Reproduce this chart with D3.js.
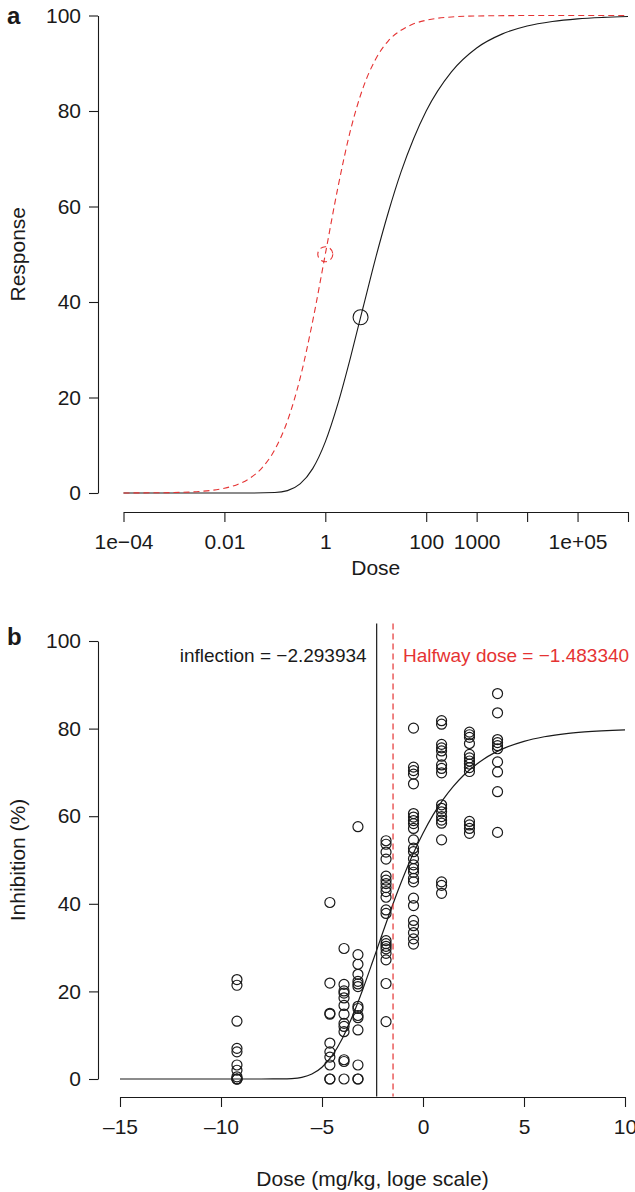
<!DOCTYPE html>
<html>
<head>
<meta charset="utf-8">
<script src="https://cdn.jsdelivr.net/npm/d3@7"></script>
<style>
  body { margin: 0; background: #fff; }
  text { font-family: "Liberation Sans", Arial, Helvetica, sans-serif; }
</style>
</head>
<body>
<div id="container"></div>
<script>
// ---- panel a: two model curves (dose on log10 scale) ----
const curveExpA = [-4, -3, -2, -1.5, -1, -0.75, -0.5, -0.25, 0, 0.25, 0.5, 0.699, 0.75, 1, 1.25, 1.5, 1.75, 2, 2.5, 3, 3.5, 4, 4.5, 5, 5.5, 6];
const blackRespA = [0, 0, 0, 0, 0.09, 0.5, 1.9, 5.1, 10.7, 18.7, 28.4, 36.8, 38.9, 49.3, 58.8, 67.2, 74.2, 80.0, 88.2, 93.2, 96.1, 97.8, 98.75, 99.3, 99.6, 99.78];
const redExpA = [-4, -3, -2.5, -2, -1.75, -1.5, -1.25, -1, -0.75, -0.5, -0.25, 0, 0.25, 0.5, 0.75, 1, 1.25, 1.5, 1.75, 2, 2.5, 3, 4, 5, 6];
const redRespA = [0.01, 0.1, 0.32, 0.99, 1.75, 3.07, 5.32, 9.09, 15.1, 24.0, 36.0, 50, 64.0, 76.0, 84.9, 90.9, 94.7, 96.9, 98.25, 99.0, 99.7, 99.9, 99.99, 100, 100];
const markA = [{ dose: 5, resp: 36.8, red: false }, { dose: 1, resp: 50, red: true }];
const xTicksA = [1e-4, 1e-2, 1, 100, 1000, 1e4, 1e5, 1e6];
const xLabelsA = ["1e\u221204", "0.01", "1", "100", "1000", "", "1e+05", ""];
const yTicks = [0, 20, 40, 60, 80, 100];

// ---- panel b: observed inhibition by log dose ----
const doseB = [-9.21, -4.61, -3.91, -3.22, -1.83, -0.47, 0.92, 2.30, 3.69];
const inhibB = [
  [22.7, 21.4, 13.2, 7.0, 6.2, 3.2, 2.0, 0.5, 0, 0, 0],
  [40.3, 21.9, 15.0, 14.8, 8.2, 6.2, 5.0, 3.2, 0, 0],
  [29.8, 21.6, 20.1, 19.6, 18.5, 16.8, 14.8, 12.7, 12.0, 10.8, 4.4, 4.0, 0],
  [57.6, 28.4, 26.2, 23.9, 22.3, 21.7, 21.1, 16.6, 16.1, 14.5, 14.0, 11.2, 3.2, 0, 0],
  [54.4, 53.6, 51.8, 50.2, 46.3, 45.4, 44.6, 43.7, 42.8, 41.5, 38.6, 37.8, 31.6, 30.9, 30.3, 29.7, 28.7, 27.2, 21.8, 13.1],
  [80.1, 71.2, 70.4, 69.6, 67.4, 60.6, 59.8, 59.0, 58.3, 57.2, 54.6, 52.7, 51.9, 50.3, 48.9, 48.0, 47.2, 45.8, 45.0, 41.3, 39.6, 36.2, 35.0, 33.4, 32.0, 30.8],
  [81.8, 81.0, 76.4, 75.6, 74.9, 73.7, 71.7, 70.9, 69.9, 62.6, 61.8, 61.0, 59.9, 59.1, 58.4, 54.6, 45.0, 44.2, 42.4],
  [79.2, 78.6, 78.0, 76.6, 74.1, 73.3, 72.6, 71.9, 71.1, 70.2, 58.8, 58.0, 57.2, 56.1],
  [88.0, 83.6, 77.5, 76.8, 76.1, 75.4, 72.4, 70.1, 65.6, 56.3]
];
const curveDoseB = [-15, -10, -8, -7, -6.5, -6, -5.5, -5, -4.5, -4, -3.5, -3, -2.5, -2.294, -2, -1.5, -1, -0.5, 0, 0.5, 1, 1.5, 2, 3, 4, 5, 6, 7, 8, 10];
const curveRespB = [0, 0, 0, 0.02, 0.1, 0.38, 1.13, 2.68, 5.32, 9.21, 14.26, 20.21, 26.7, 29.43, 33.33, 39.79, 45.82, 51.3, 56.11, 60.3, 63.84, 66.82, 69.3, 73.02, 75.48, 77.1, 78.14, 78.81, 79.24, 79.69];
const inflection = -2.293934;
const halfway = -1.483340;
const xTicksB = [-15, -10, -5, 0, 5, 10];

const RED = "#e53333";
const INK = "#1a1a1a";

const svg = d3.select("#container")
              .append("svg")
              .attr("width", 635)
              .attr("height", 1192);

function styleAxis(g, size) {
  g.select(".domain").attr("stroke", INK).attr("stroke-width", 1.1);
  g.selectAll(".tick line").attr("stroke", INK).attr("stroke-width", 1.1);
  g.selectAll(".tick text").attr("fill", INK).style("font-size", size + "px")
   .style("font-family", '"Liberation Sans", Arial, Helvetica, sans-serif');
}

// ===== panel a =====
const xA = d3.scaleLog().domain([1e-4, 1e6]).range([123.5, 628]);
const yA = d3.scaleLinear().domain([0, 100]).range([493, 15.5]);

svg.append("g")
   .attr("transform", "translate(0,512)")
   .call(d3.axisBottom(xA).tickValues(xTicksA)
           .tickFormat((d, i) => xLabelsA[i]).tickSize(10).tickSizeOuter(0).tickPadding(12))
   .call(g => styleAxis(g, 21));

svg.append("g")
   .attr("transform", "translate(98,0)")
   .call(d3.axisLeft(yA).tickValues(yTicks).tickSize(9).tickSizeOuter(0).tickPadding(8))
   .call(g => styleAxis(g, 21));

const lineA = d3.line().x(d => xA(d[0])).y(d => yA(d[1])).curve(d3.curveMonotoneX);

svg.append("path")
   .datum(curveExpA.map((e, i) => [Math.pow(10, e), blackRespA[i]]))
   .attr("d", lineA)
   .attr("fill", "none").attr("stroke", INK).attr("stroke-width", 1.1);

svg.append("path")
   .datum(redExpA.map((e, i) => [Math.pow(10, e), redRespA[i]]))
   .attr("d", lineA)
   .attr("fill", "none").attr("stroke", RED).attr("stroke-width", 1.1)
   .attr("stroke-dasharray", "6,4");

svg.selectAll("circle.markA")
   .data(markA)
   .enter()
   .append("circle")
   .attr("class", "markA")
   .attr("cx", d => xA(d.dose))
   .attr("cy", d => yA(d.resp))
   .attr("r", 7.5)
   .attr("fill", "none")
   .attr("stroke", d => d.red ? RED : INK)
   .attr("stroke-width", 1.1)
   .attr("stroke-dasharray", d => d.red ? "6,4" : null);

svg.append("text").text("a")
   .attr("x", 7).attr("y", 24)
   .style("font-size", "24px").style("font-weight", "bold").attr("fill", INK);

svg.append("text").text("Dose")
   .attr("x", (xA.range()[0] + xA.range()[1]) / 2).attr("y", 575)
   .attr("text-anchor", "middle").style("font-size", "21px").attr("fill", INK);

svg.append("text").text("Response")
   .attr("transform", "translate(25," + yA(50) + ")rotate(-90)")
   .attr("text-anchor", "middle").style("font-size", "21px").attr("fill", INK);

// ===== panel b =====
const xB = d3.scaleLinear().domain([-15, 10]).range([120, 625]);
const yB = d3.scaleLinear().domain([0, 100]).range([1079, 641]);

svg.append("g")
   .attr("transform", "translate(0,1097)")
   .call(d3.axisBottom(xB).tickValues(xTicksB)
           .tickFormat(d => d < 0 ? "\u2013" + Math.abs(d) : d)
           .tickSize(10).tickSizeOuter(0).tickPadding(12))
   .call(g => styleAxis(g, 21));

svg.append("g")
   .attr("transform", "translate(98,0)")
   .call(d3.axisLeft(yB).tickValues(yTicks).tickSize(9).tickSizeOuter(0).tickPadding(8))
   .call(g => styleAxis(g, 21));

const points = [];
doseB.forEach((dose, i) => inhibB[i].forEach(v => points.push({ dose: dose, v: v })));

svg.selectAll("circle.pt")
   .data(points)
   .enter()
   .append("circle")
   .attr("class", "pt")
   .attr("cx", d => xB(d.dose))
   .attr("cy", d => yB(d.v))
   .attr("r", 5)
   .attr("fill", "none")
   .attr("stroke", INK)
   .attr("stroke-width", 1.2);

svg.append("path")
   .datum(curveDoseB.map((d, i) => [d, curveRespB[i]]))
   .attr("d", d3.line().x(d => xB(d[0])).y(d => yB(d[1])).curve(d3.curveMonotoneX))
   .attr("fill", "none").attr("stroke", INK).attr("stroke-width", 1.2);

svg.append("line")
   .attr("x1", xB(inflection)).attr("x2", xB(inflection))
   .attr("y1", yB(104)).attr("y2", yB(-4))
   .attr("stroke", INK).attr("stroke-width", 1.2);

svg.append("line")
   .attr("x1", xB(halfway)).attr("x2", xB(halfway))
   .attr("y1", yB(104)).attr("y2", yB(-4))
   .attr("stroke", RED).attr("stroke-width", 1.2)
   .attr("stroke-dasharray", "6,4");

svg.append("text").text("inflection = \u2212" + Math.abs(inflection).toFixed(6))
   .attr("x", xB(inflection) - 10).attr("y", 662)
   .attr("text-anchor", "end").style("font-size", "19px").attr("fill", INK);

svg.append("text").text("Halfway dose = \u2212" + Math.abs(halfway).toFixed(6))
   .attr("x", xB(halfway) + 10).attr("y", 662)
   .style("font-size", "19px").attr("fill", RED);

svg.append("text").text("b")
   .attr("x", 7).attr("y", 645)
   .style("font-size", "24px").style("font-weight", "bold").attr("fill", INK);

svg.append("text").text("Dose (mg/kg, loge scale)")
   .attr("x", (xB.range()[0] + xB.range()[1]) / 2).attr("y", 1186)
   .attr("text-anchor", "middle").style("font-size", "21px").attr("fill", INK);

svg.append("text").text("Inhibition (%)")
   .attr("transform", "translate(25," + yB(50) + ")rotate(-90)")
   .attr("text-anchor", "middle").style("font-size", "21px").attr("fill", INK);
</script>
</body>
</html>
